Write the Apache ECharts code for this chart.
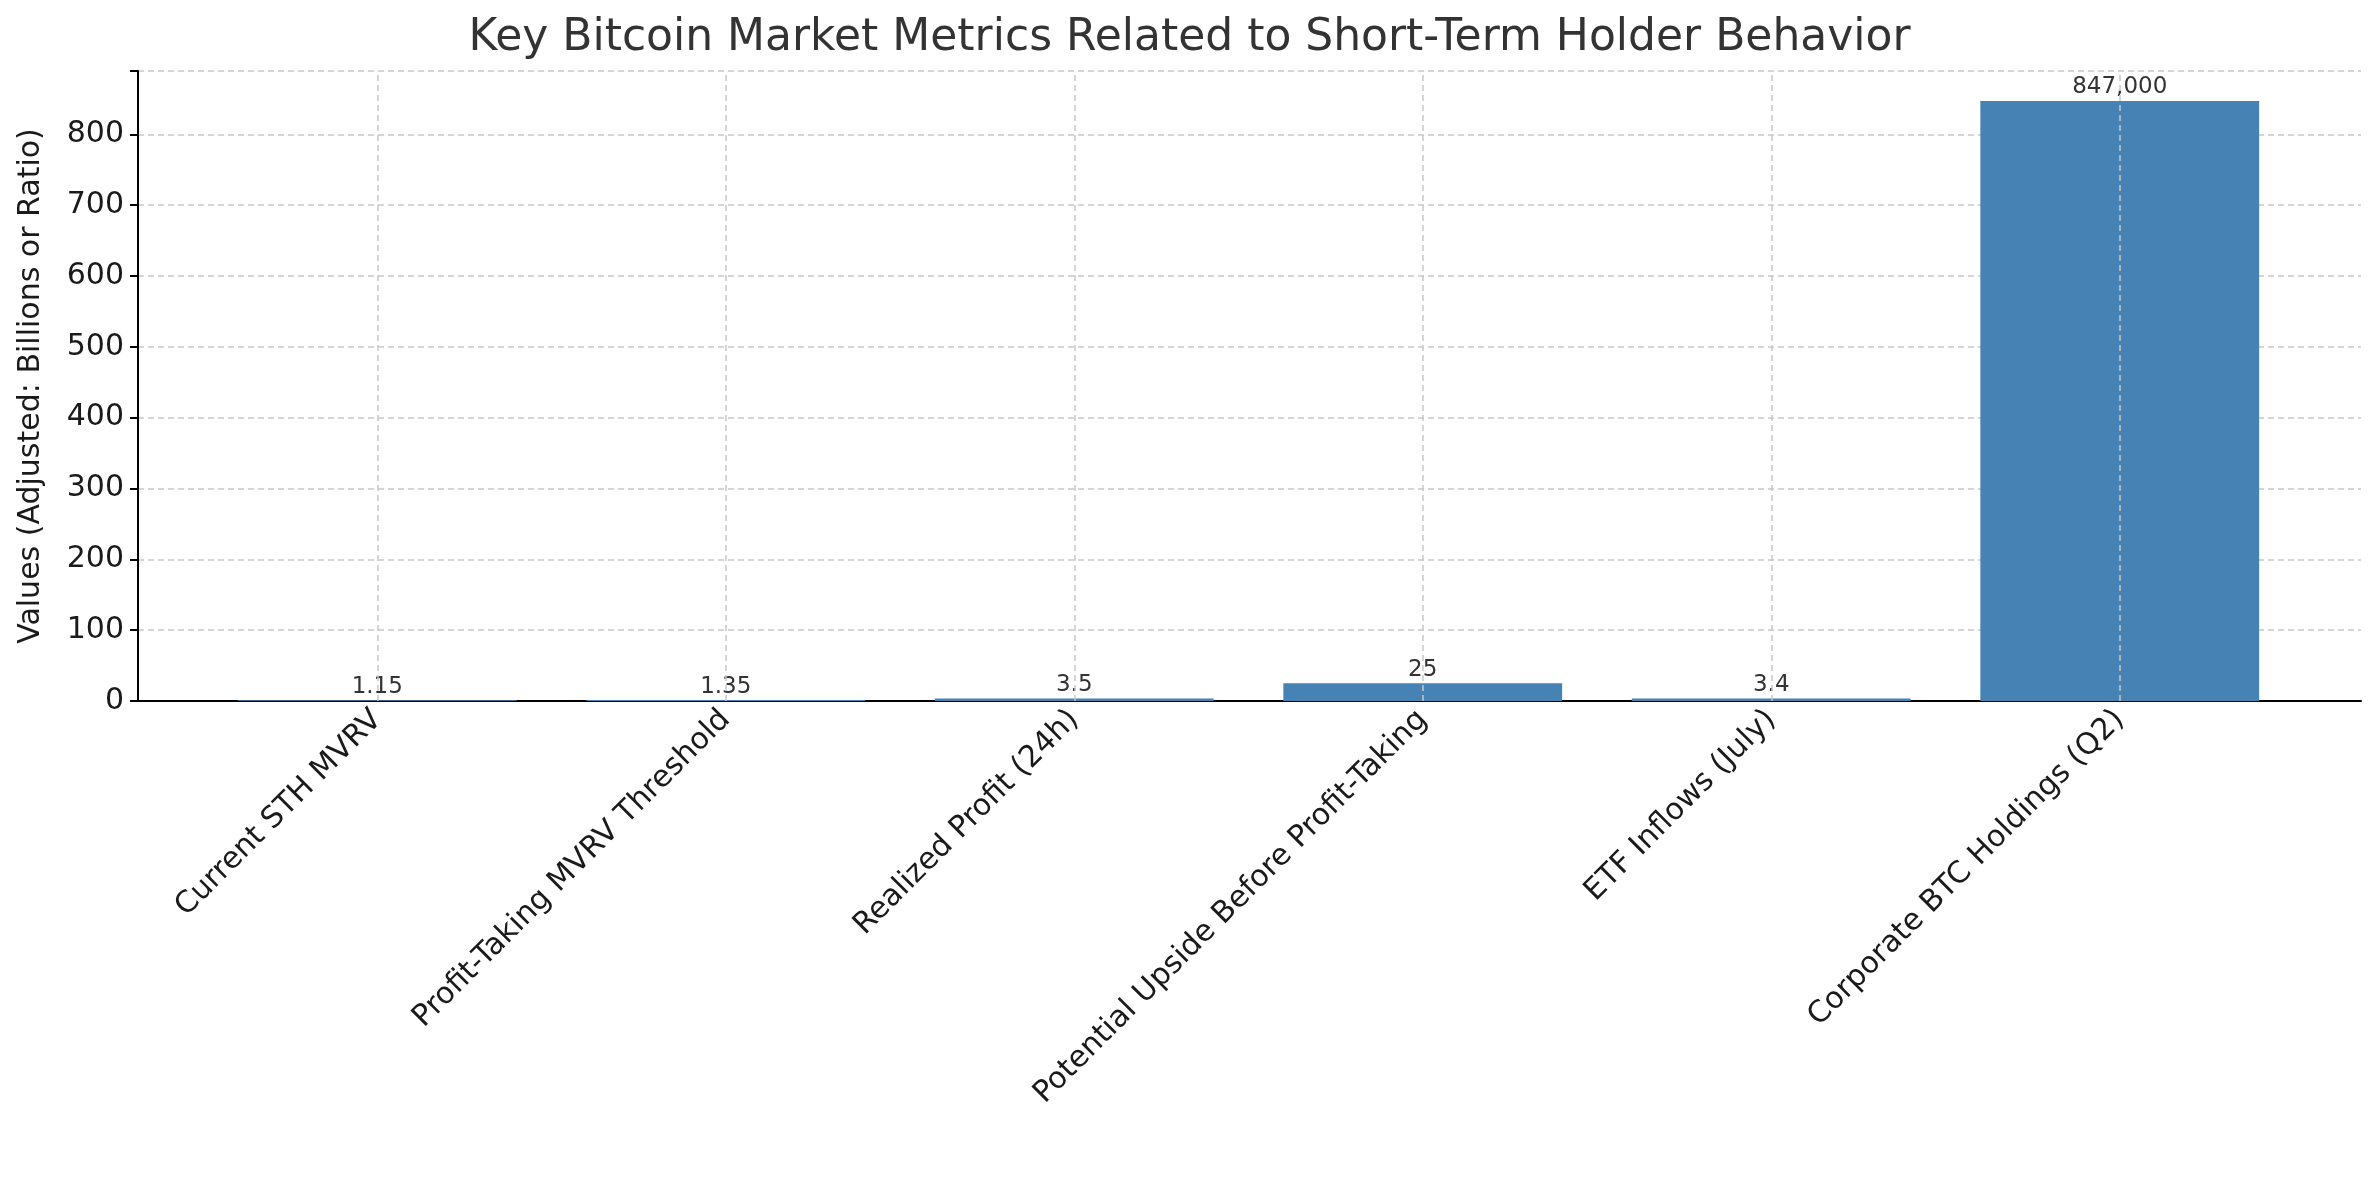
<!DOCTYPE html>
<html><head><meta charset="utf-8">
<script src="https://cdn.jsdelivr.net/npm/echarts@6/dist/echarts.min.js"></script>
<style>html,body{margin:0;background:#fff}#c{width:2379px;height:1180px}</style>
</head><body><div id="c"></div>
<script>
const categories = ['Current STH MVRV', 'Profit-Taking MVRV Threshold', 'Realized Profit (24h)',
  'Potential Upside Before Profit-Taking', 'ETF Inflows (July)', 'Corporate BTC Holdings (Q2)'];
const values = [1.15, 1.35, 3.5, 25, 3.4, 847];
const barLabels = ['1.15', '1.35', '3.5', '25', '3.4', '847,000'];
const yTicks = [0, 100, 200, 300, 400, 500, 600, 700, 800];

const chart = echarts.init(document.getElementById('c'));
const font = 'DejaVu Sans';
const yMax = 889.35;
const dash = { color: '#c8c8c8', type: [6, 4], width: 1.5 };
chart.setOption({
  animation: false,
  textStyle: { fontFamily: font },
  title: { text: 'Key Bitcoin Market Metrics Related to Short-Term Holder Behavior', left: 'center', top: 12,
    textStyle: { fontFamily: font, fontSize: 44, fontWeight: 'normal', color: '#333' } },
  grid: [
    { left: 203, right: 85, top: 71, bottom: 479 },   // bars
    { left: 138, right: 18, top: 71, bottom: 479 }    // axes frame
  ],
  xAxis: [{
    type: 'category', data: categories, gridIndex: 0,
    axisLine: { show: false },
    axisTick: { alignWithLabel: true, length: 8, lineStyle: { color: '#000', width: 2 } },
    axisLabel: { rotate: 45, fontSize: 30, color: '#1a1a1a', margin: 14, interval: 0 },
    splitLine: { show: false }
  }, {
    type: 'value', gridIndex: 1, min: 0, max: 1,
    axisLine: { show: true, onZero: false, lineStyle: { color: '#000', width: 2 } },
    axisTick: { show: false }, axisLabel: { show: false }, splitLine: { show: false }
  }],
  yAxis: [{
    type: 'value', gridIndex: 0, min: 0, max: yMax,
    axisLine: { show: false }, axisTick: { show: false }, axisLabel: { show: false }, splitLine: { show: false }
  }, {
    type: 'value', gridIndex: 1, min: 0, max: yMax, interval: 100,
    name: 'Values (Adjusted: Billions or Ratio)', nameLocation: 'middle', nameGap: 92,
    nameTextStyle: { fontSize: 30, color: '#1a1a1a' },
    axisLine: { show: true, lineStyle: { color: '#000', width: 2 } },
    axisTick: { show: true, length: 8, lineStyle: { color: '#000', width: 2 } },
    axisLabel: { fontSize: 30, color: '#1a1a1a', margin: 14,
      formatter: v => yTicks.includes(v) ? String(v) : '' },
    splitLine: { lineStyle: dash }
  }],
  series: [{
    type: 'bar', data: values, barWidth: '80%', xAxisIndex: 0, yAxisIndex: 0,
    itemStyle: { color: '#4682b4' },
    label: { show: true, position: 'top', distance: 2, fontSize: 23, color: '#333',
      formatter: p => barLabels[p.dataIndex] },
    markLine: {
      silent: true, symbol: 'none', label: { show: false },
      lineStyle: dash,
      data: categories.map(c => ({ xAxis: c }))
    }
  }]
});
</script></body></html>
